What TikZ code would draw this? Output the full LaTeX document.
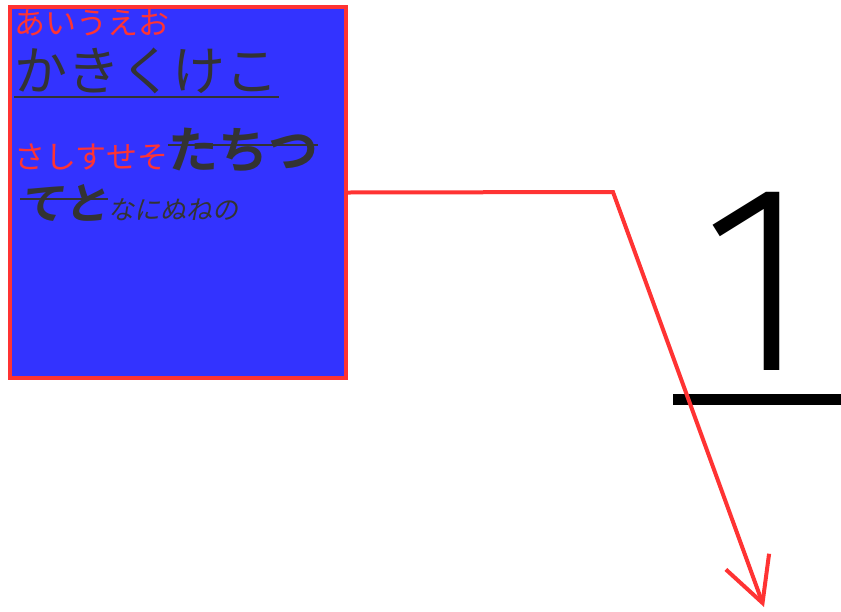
\documentclass[tikz,border=0pt]{standalone}
\usepackage{fontspec}
\usetikzlibrary{positioning}
\usetikzlibrary{arrows.meta}
\newfontfamily\jpfont{Noto Sans CJK JP}
\newfontfamily\jpboldfont{Noto Sans CJK JP Bold}
\newfontfamily\jpslantfont[FakeSlant=0.2]{Noto Sans CJK JP}
\newfontfamily\jpboldslantfont[FakeSlant=0.15]{Noto Sans CJK JP Bold}
\newfontfamily\numfont{Fira Sans Light}
\definecolor{boxred}{HTML}{FF3333}
\definecolor{boxblue}{HTML}{3333FF}
\definecolor{inkgray}{HTML}{333333}

\begin{document}
\begin{tikzpicture}[x=1pt,y=1pt,
    textbox/.style={draw=boxred, fill=boxblue, line width=4pt, minimum width=336pt, minimum height=371pt, inner sep=0pt},
    kana/.style={anchor=base west, inner sep=0pt, outer sep=0pt},
    redline/.style={draw=boxred, line width=4pt},
    rule/.style={draw=inkgray, line width=2pt}]
    \useasboundingbox (0,0) rectangle (841,-611);
    %Nodes
    \node[textbox] (box) at (178,-192.5) {};
    \node[kana, text=boxred, font=\jpfont\fontsize{31}{31}\selectfont] (rowA) at (14,-34) {あいうえお};
    \node[kana, text=inkgray, font=\jpfont\fontsize{53}{53}\selectfont] (rowB) at (14,-90) {かきくけこ};
    \node[kana, text=boxred, font=\jpfont\fontsize{31}{31}\selectfont] (rowC) at (14,-168) {さしすせそ};
    \node[kana, text=inkgray, font=\jpboldfont\fontsize{50}{50}\selectfont] (rowD) at (rowC.base east) {たちつ};
    \node[kana, text=inkgray, font=\jpboldslantfont\fontsize{44}{44}\selectfont] (rowE) at (20,-219) {てと};
    \node[kana, text=inkgray, font=\jpslantfont\fontsize{26}{26}\selectfont] (rowF) at (rowE.base east) {なにぬねの};
    \node[anchor=base, inner sep=0pt, font=\numfont\fontsize{268}{268}\selectfont] (numeral) at (757,-370) {1};
    %Lines
    \draw[rule] ([yshift=-7pt]rowB.base west) -- ([yshift=-7pt]rowB.base east);
    \draw[rule] ([yshift=23pt]rowD.base west) -- ([yshift=23pt]rowD.base east);
    \draw[rule] ([yshift=20pt]rowE.base west) -- ([yshift=20pt]rowE.base east);
    \fill (673,-394) rectangle (841,-405);
    \coordinate (bend) at (613,-192);
    \coordinate (tip) at (764,-607);
    \draw[redline, -{Straight Barb[length=44pt,width=46pt]}] (box.east) -- (bend) -- (tip);
\end{tikzpicture}
\end{document}
